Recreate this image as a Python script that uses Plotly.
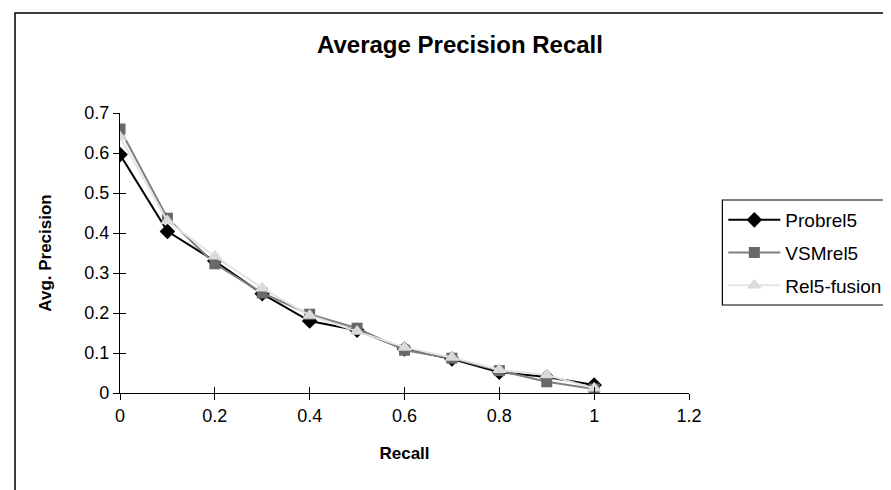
import plotly.graph_objects as go

recall = [0, 0.1, 0.2, 0.3, 0.4, 0.5, 0.6, 0.7, 0.8, 0.9, 1.0]
probrel5 = [0.596, 0.404, 0.33, 0.248, 0.18, 0.157, 0.11, 0.085, 0.052, 0.04, 0.02]
vsmrel5 = [0.66, 0.437, 0.323, 0.25, 0.197, 0.162, 0.107, 0.087, 0.056, 0.028, 0.01]
fusion = [0.64, 0.43, 0.342, 0.262, 0.194, 0.154, 0.114, 0.089, 0.058, 0.045, 0.012]

x_ticks = [0, 0.2, 0.4, 0.6, 0.8, 1, 1.2]
x_tick_labels = ["0", "0.2", "0.4", "0.6", "0.8", "1", "1.2"]
y_ticks = [0, 0.1, 0.2, 0.3, 0.4, 0.5, 0.6, 0.7]
y_tick_labels = ["0", "0.1", "0.2", "0.3", "0.4", "0.5", "0.6", "0.7"]

FONT = "Liberation Sans, Arial, sans-serif"

L, R, T, B = 112, 199, 105, 105
PW = 891 - L - R
PH = 490 - T - B


def px_x(p):
    return (p - L) / PW


def px_y(p):
    return 1 - (p - T) / PH


fig = go.Figure()
fig.add_trace(go.Scatter(x=recall, y=probrel5, name="Probrel5", mode="lines+markers",
                         line=dict(color="#000000", width=2),
                         marker=dict(symbol="diamond", size=12, color="#000000"),
                         legendgroup="a"))
fig.add_trace(go.Scatter(x=recall, y=vsmrel5, name="VSMrel5", mode="lines+markers",
                         line=dict(color="#808080", width=2),
                         marker=dict(symbol="square", size=11, color="#696969"),
                         legendgroup="b"))
fig.add_trace(go.Scatter(x=recall, y=fusion, name="Rel5-fusion", mode="lines+markers",
                         line=dict(color="#e4e4e4", width=2),
                         marker=dict(symbol="triangle-up", size=13, color="#dadada"),
                         legendgroup="c"))
# invisible trace carrying the inner half of the cross tick marks
fig.add_trace(go.Scatter(x=[None], y=[None], xaxis="x2", yaxis="y2", showlegend=False,
                         hoverinfo="skip"))

axis_common = dict(showgrid=False, zeroline=False, linecolor="#000000", linewidth=1.3,
                   tickcolor="#000000", ticklen=6, tickwidth=1.3,
                   tickfont=dict(family=FONT, size=18, color="#000000"))

fig.update_layout(
    width=891, height=490,
    margin=dict(l=L, r=R, t=T, b=B),
    paper_bgcolor="white", plot_bgcolor="white",
    title=dict(text="<b>Average Precision Recall</b>", x=452 / 891, xref="container",
               xanchor="center", y=1 - 37 / 490, yanchor="middle",
               font=dict(family=FONT, size=24, color="#000000")),
    xaxis=dict(range=[0, 1.2], tickvals=x_ticks, ticktext=x_tick_labels, ticks="outside",
               showline=True, title=dict(text="<b>Recall</b>", standoff=22,
                                         font=dict(family=FONT, size=17, color="#000000")),
               **axis_common),
    yaxis=dict(range=[0, 0.7], tickvals=y_ticks, ticktext=y_tick_labels, ticks="outside",
               showline=True, title=dict(text="<b>Avg. Precision</b>", standoff=28,
                                         font=dict(family=FONT, size=17, color="#000000")),
               **axis_common),
    xaxis2=dict(range=[0, 1.2], tickvals=x_ticks, ticks="inside", showticklabels=False,
                showline=False, showgrid=False, zeroline=False, overlaying="x",
                anchor="y2", ticklen=6, tickwidth=1.3, tickcolor="#000000"),
    yaxis2=dict(range=[0, 0.7], tickvals=y_ticks, ticks="inside", showticklabels=False,
                showline=False, showgrid=False, zeroline=False, overlaying="y",
                anchor="x2", ticklen=6, tickwidth=1.3, tickcolor="#000000"),
    legend=dict(x=px_x(727), y=px_y(193), xanchor="left", yanchor="top",
                borderwidth=0, bgcolor="rgba(0,0,0,0)",
                font=dict(family=FONT, size=19, color="#000000"),
                tracegroupgap=5, itemwidth=52),
    shapes=[
        dict(type="rect", xref="paper", yref="paper",
             x0=px_x(5), x1=1.6, y0=-0.6, y1=px_y(5),
             line=dict(color="#000000", width=1.5), layer="below"),
        dict(type="rect", xref="paper", yref="paper",
             x0=px_x(726), x1=px_x(905), y0=px_y(297), y1=px_y(192),
             line=dict(color="#000000", width=1.2), fillcolor="white", layer="below"),
    ],
)

fig.write_html("out.html")
